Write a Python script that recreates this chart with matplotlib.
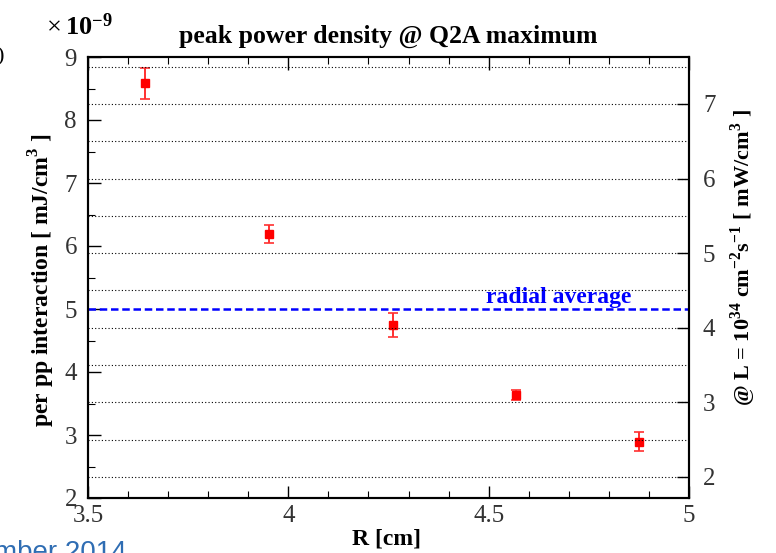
import matplotlib
matplotlib.use('Agg')
import matplotlib.pyplot as plt
from matplotlib.ticker import MultipleLocator, FormatStrFormatter

# data (left axis in units of 1e-9 mJ/cm^3)
R = [3.643, 3.951, 4.261, 4.568, 4.875]
power = [8.58, 6.19, 4.745, 3.635, 2.89]
power_err = [0.25, 0.15, 0.185, 0.085, 0.15]
radial_avg = 5.0

xlim = (3.5, 5.0)
ylim_left = (2.0, 9.0)
ylim_right = (1.718, 7.63)   # mW/cm^3 @ L = 1e34

plt.rcParams['font.family'] = ['Liberation Serif', 'DejaVu Serif']
plt.rcParams['mathtext.fontset'] = 'custom'
plt.rcParams['mathtext.rm'] = 'Liberation Serif'
plt.rcParams['mathtext.bf'] = 'Liberation Serif:bold'

fig = plt.figure(figsize=(7.76, 5.53), dpi=100)
ax1 = fig.add_axes([88/776, 1-498/553, 601/776, 441/553])
ax2 = ax1.twinx()

# dotted grid follows the right-hand scale
for g in [2.0, 2.5, 3.0, 3.5, 4.0, 4.5, 5.0, 5.5, 6.0, 6.5, 7.0, 7.5]:
    ax2.axhline(g, color='black', linestyle=(0, (1, 2)), linewidth=0.8, zorder=0)

ax1.axhline(radial_avg, color='blue', linestyle=(0, (3, 1.5)), linewidth=1.8, zorder=2)
ax1.text(4.675, radial_avg + 0.02, 'radial average', color='blue', fontsize=17,
         fontweight='bold', ha='center', va='bottom')

ax1.errorbar(R, power, yerr=power_err, fmt='s', color='red', ecolor='#ff3030',
             markersize=6, elinewidth=1.4, capsize=3.5, capthick=1.2, zorder=5)

ax1.set_xlim(xlim)
ax1.set_ylim(ylim_left)
ax2.set_ylim(ylim_right)

ax1.xaxis.set_major_locator(MultipleLocator(0.5))
ax1.xaxis.set_minor_locator(MultipleLocator(0.1))
ax1.xaxis.set_major_formatter(FormatStrFormatter('%g'))
ax1.yaxis.set_major_locator(MultipleLocator(1))
ax1.yaxis.set_minor_locator(MultipleLocator(0.5))
ax2.yaxis.set_major_locator(MultipleLocator(1))
ax2.yaxis.set_minor_locator(MultipleLocator(0.5))

ax1.tick_params(axis='x', which='both', direction='in', top=True, labelsize=18, pad=5)
ax1.tick_params(axis='y', which='both', direction='in', right=False, labelsize=18, pad=8)
ax1.tick_params(which='major', length=9, width=1)
ax1.tick_params(which='minor', length=5, width=0.8)
ax2.tick_params(axis='y', which='major', direction='in', length=9, width=1, labelsize=18, pad=10)
ax2.tick_params(axis='y', which='minor', direction='in', length=0)

for ax in (ax1, ax2):
    for s in ax.spines.values():
        s.set_linewidth(1.5)
    for lab in ax.get_xticklabels() + ax.get_yticklabels():
        lab.set_color('#333333')

fig.text(388/776, 1-36/553, 'peak power density @ Q2A maximum', fontsize=18.5,
         fontweight='bold', ha='center', va='center')
fig.text(46/776, 1-27/553, r'$\times\,\mathbf{10^{-9}}$', fontsize=19, ha='left', va='center')
fig.text(387/776, 1-539/553, 'R [cm]', fontsize=17, fontweight='bold', ha='center', va='center')
fig.text(42/776, 1-280/553, r'per pp interaction [ mJ/cm$^{\mathbf{3}}$ ]', fontsize=17,
         fontweight='bold', rotation=90, ha='center', va='center')
fig.text(743/776, 1-258/553,
         r'@ L = 10$^{\mathbf{34}}$ cm$^{\mathbf{-2}}$s$^{\mathbf{-1}}$ [ mW/cm$^{\mathbf{3}}$ ]',
         fontsize=16, fontweight='bold', rotation=90, ha='center', va='center')

# slide remnants at the edges
fig.text(-4/776, 1-57/553, ')', fontsize=16, ha='left', va='center')
fig.text(-6/776, 1-566/553, 'mber 2014', fontsize=20, color='#2f6db3',
         family=['Liberation Sans', 'DejaVu Sans'], ha='left', va='bottom')

fig.savefig('out.png', dpi=100)
